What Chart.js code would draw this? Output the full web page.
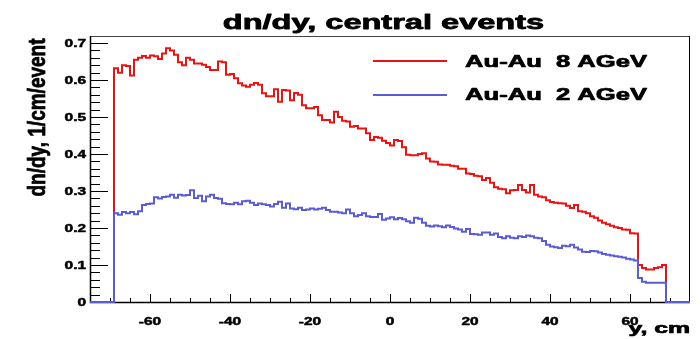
<!DOCTYPE html>
<html><head><meta charset="utf-8">
<script src="https://cdn.jsdelivr.net/npm/chart.js@4.4.1/dist/chart.umd.min.js"></script>
<style>html,body{margin:0;padding:0;background:#fff;}#wrap{width:700px;height:339px;}</style>
</head><body><div id="wrap"><canvas id="c" width="700" height="339"></canvas></div>
<script>
const titleText = 'dn/dy, central events';
const xTitle = 'y, cm';
const yTitle = 'dn/dy, 1/cm/event';
const seriesNames = ['Au-Au  8 AGeV', 'Au-Au  2 AGeV'];
const xRange = [-75, 75];
const yRange = [0, 0.719];
const firstBinEdge = -69;
const binWidth = 1;
// bins from -69 to 69, width 1
const au8 = [
0.632,0.620,0.640,0.638,0.612,0.655,0.660,0.665,0.660,0.666,
0.664,0.657,0.672,0.686,0.680,0.668,0.648,0.640,0.660,0.655,
0.645,0.645,0.641,0.635,0.627,0.627,0.650,0.648,0.614,0.616,
0.605,0.591,0.585,0.582,0.587,0.592,0.587,0.564,0.556,0.556,
0.575,0.541,0.573,0.572,0.545,0.565,0.560,0.532,0.524,0.524,
0.527,0.505,0.492,0.492,0.485,0.514,0.500,0.490,0.488,0.474,
0.476,0.469,0.469,0.456,0.438,0.446,0.444,0.436,0.430,0.423,
0.438,0.435,0.418,0.398,0.397,0.397,0.400,0.402,0.388,0.380,
0.379,0.372,0.371,0.371,0.368,0.367,0.360,0.360,0.347,0.346,
0.341,0.340,0.330,0.335,0.322,0.310,0.306,0.305,0.294,0.302,
0.303,0.316,0.303,0.296,0.316,0.290,0.285,0.283,0.275,0.270,
0.268,0.267,0.266,0.260,0.254,0.262,0.245,0.244,0.240,0.232,
0.228,0.220,0.214,0.210,0.206,0.202,0.200,0.196,0.195,0.186,
0.185,0.100,0.092,0.088,0.088,0.092,0.094,0.100];
const au2 = [
0.240,0.236,0.243,0.240,0.243,0.237,0.245,0.262,0.265,0.266,
0.283,0.280,0.284,0.285,0.290,0.282,0.290,0.288,0.289,0.302,
0.281,0.287,0.272,0.285,0.290,0.281,0.279,0.267,0.265,0.264,
0.268,0.264,0.272,0.274,0.268,0.262,0.266,0.264,0.262,0.258,
0.265,0.271,0.255,0.266,0.253,0.251,0.255,0.249,0.250,0.253,
0.250,0.252,0.255,0.249,0.244,0.244,0.242,0.240,0.250,0.240,
0.232,0.235,0.240,0.232,0.230,0.230,0.238,0.222,0.226,0.229,
0.224,0.227,0.224,0.218,0.214,0.228,0.225,0.214,0.206,0.204,
0.207,0.205,0.202,0.207,0.203,0.199,0.196,0.190,0.197,0.184,
0.183,0.182,0.188,0.188,0.182,0.185,0.176,0.172,0.178,0.174,
0.172,0.178,0.176,0.180,0.178,0.174,0.172,0.165,0.155,0.150,
0.148,0.146,0.152,0.151,0.155,0.147,0.142,0.136,0.135,0.138,
0.137,0.134,0.130,0.128,0.126,0.124,0.122,0.120,0.117,0.115,
0.112,0.065,0.055,0.052,0.052,0.052,0.052,0.052];
const xTickValues = [-60,-40,-20,0,20,40,60];
const xTickLabels = ['-60','-40','-20','0','20','40','60'];
const xMinorStep = 5;
const yTickValues = [0,0.1,0.2,0.3,0.4,0.5,0.6,0.7];
const yTickLabels = ['0','0.1','0.2','0.3','0.4','0.5','0.6','0.7'];
const yMinorStep = 0.02;
const colors = ['#ee1111', '#5b5bd6'];

function histPoints(values){
  const pts = [{x: xRange[0], y: 0}];
  values.forEach((v,i)=>pts.push({x: firstBinEdge + i*binWidth, y: v}));
  const end = firstBinEdge + values.length*binWidth;
  pts.push({x: end, y: 0});
  pts.push({x: xRange[1], y: 0});
  return pts;
}
const FONT = '"Liberation Sans", Arial, sans-serif';
function sText(ctx, text, x, y, size, sx, align, baseline, heavy){
  ctx.save();
  ctx.font = 'bold ' + size + 'px ' + FONT;
  ctx.textAlign = align; ctx.textBaseline = baseline;
  ctx.fillStyle = '#000'; ctx.strokeStyle = '#000'; ctx.lineWidth = heavy; ctx.lineJoin = 'round';
  ctx.translate(x, y); ctx.scale(sx, 1);
  ctx.fillText(text, 0, 0);
  if (heavy > 0) ctx.strokeText(text, 0, 0);
  ctx.restore();
}
const rootDecor = {
  id: 'rootDecor',
  beforeDatasetsDraw(chart){
    const ctx = chart.ctx, a = chart.chartArea, xs = chart.scales.x, ys = chart.scales.y;
    ctx.save();
    ctx.strokeStyle = '#444'; ctx.lineWidth = 1;
    ctx.beginPath();
    ctx.moveTo(a.left, a.top + 0.5); ctx.lineTo(a.right, a.top + 0.5);
    ctx.stroke();
    ctx.strokeStyle = '#000';
    ctx.beginPath();
    ctx.moveTo(a.right - 0.5, a.top); ctx.lineTo(a.right - 0.5, a.bottom);
    ctx.stroke();
    ctx.lineWidth = 1.5;
    ctx.beginPath();
    ctx.moveTo(a.left + 0.5, a.top); ctx.lineTo(a.left + 0.5, a.bottom + 0.5);
    ctx.lineTo(a.right, a.bottom + 0.5);
    ctx.stroke();
    ctx.lineWidth = 1;
    const nMinorY = Math.round((yRange[1]-yRange[0])/yMinorStep);
    for (let i = 0; i <= nMinorY; i++) {
      const v = yRange[0] + i*yMinorStep;
      if (v > yRange[1]) break;
      const py = Math.round(ys.getPixelForValue(v)) + 0.5;
      const major = Math.abs(v*10 - Math.round(v*10)) < 1e-6;
      ctx.beginPath(); ctx.moveTo(a.left, py); ctx.lineTo(a.left + (major ? 18 : 10), py); ctx.stroke();
    }
    for (let v = -70; v <= 70; v += xMinorStep) {
      const px = Math.round(xs.getPixelForValue(v)) + 0.5;
      const major = v % 20 === 0;
      ctx.beginPath(); ctx.moveTo(px, a.bottom); ctx.lineTo(px, a.bottom - (major ? 8 : 4)); ctx.stroke();
    }
    ctx.restore();
    yTickValues.forEach((v,i)=>sText(ctx, yTickLabels[i], a.left - 4, ys.getPixelForValue(v) + 0.5, 11, 1.4, 'right', 'middle', 0.5));
    xTickValues.forEach((v,i)=>sText(ctx, xTickLabels[i], xs.getPixelForValue(v), a.bottom + 19.5, 11, 1.4, 'center', 'middle', 0.5));
    sText(ctx, titleText, 383.5, 29, 21, 1.55, 'center', 'alphabetic', 0.8);
    sText(ctx, xTitle, a.right, 333, 15.5, 1.6, 'right', 'alphabetic', 0.7);
    ctx.save();
    ctx.translate(38.5, 117.5); ctx.rotate(-Math.PI/2); ctx.scale(1, 1.3);
    ctx.font = 'bold 19px ' + FONT; ctx.textAlign = 'center'; ctx.textBaseline = 'middle';
    ctx.fillStyle = '#000'; ctx.strokeStyle = '#000'; ctx.lineWidth = 0.6; ctx.lineJoin = 'round';
    ctx.fillText(yTitle, 0, 0); ctx.strokeText(yTitle, 0, 0);
    ctx.restore();
    const legY = [61, 95], legBase = [67, 100];
    seriesNames.forEach((name, i) => {
      ctx.save();
      ctx.strokeStyle = colors[i]; ctx.lineWidth = 2;
      ctx.beginPath(); ctx.moveTo(373, legY[i]); ctx.lineTo(447, legY[i]); ctx.stroke();
      ctx.restore();
      sText(ctx, name, 465, legBase[i], 16, 1.6, 'left', 'alphabetic', 0.7);
    });
  }
};
new Chart(document.getElementById('c'), {
  type: 'line',
  data: { datasets: [
    { label: seriesNames[0], data: histPoints(au8), borderColor: colors[0], borderWidth: 2, stepped: 'before', pointRadius: 0, fill: false, clip: false, order: 2, borderJoinStyle: 'miter' },
    { label: seriesNames[1], data: histPoints(au2), borderColor: colors[1], borderWidth: 2, stepped: 'before', pointRadius: 0, fill: false, clip: false, order: 1, borderJoinStyle: 'miter' }
  ]},
  options: {
    responsive: false, animation: false, devicePixelRatio: 1,
    layout: { padding: { left: 90, right: 10, top: 36, bottom: 37 } },
    plugins: { legend: { display: false }, title: { display: false }, tooltip: { enabled: false } },
    scales: {
      x: { type: 'linear', min: xRange[0], max: xRange[1], display: false },
      y: { type: 'linear', min: yRange[0], max: yRange[1], display: false }
    }
  },
  plugins: [rootDecor]
});
</script></body></html>
